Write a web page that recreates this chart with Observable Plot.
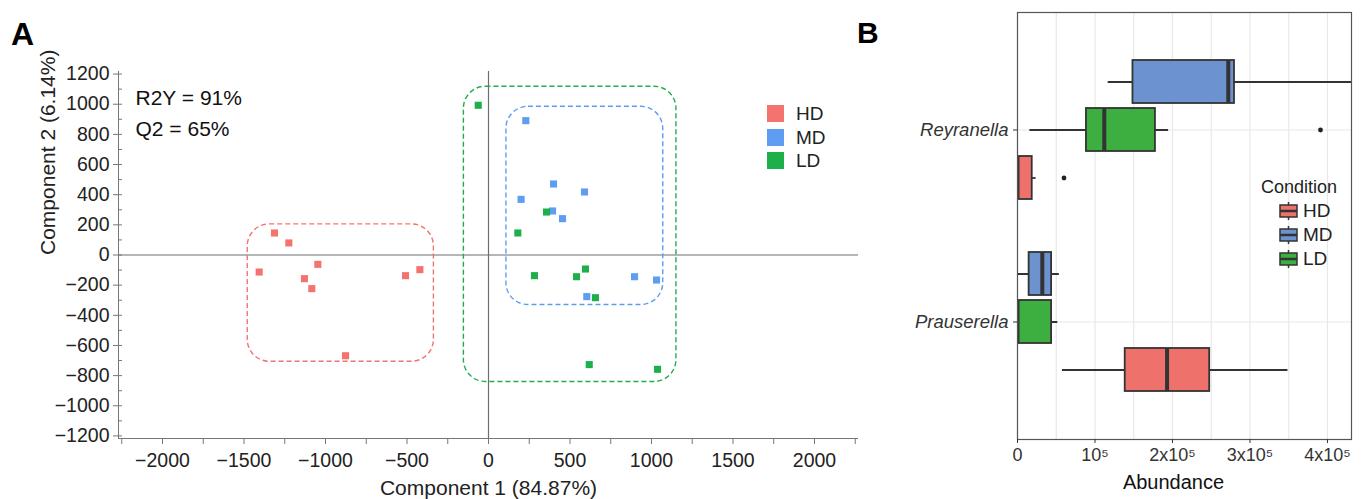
<!DOCTYPE html>
<html><head><meta charset="utf-8">
<script src="https://cdn.jsdelivr.net/npm/d3@7"></script>
<script src="https://cdn.jsdelivr.net/npm/@observablehq/plot@0.6"></script>
<style>
body{margin:0;background:#fff;font-family:"Liberation Sans",Arial,sans-serif;}
#wrap{position:relative;width:1365px;height:499px;overflow:hidden;background:#fff}
.abs{position:absolute}
#panelB g[aria-label="y-axis tick label"] text{font-style:italic}
</style></head><body><div id="wrap"></div>
<script>
// ---------- Panel A data (PLS-DA scores) ----------
const pcaGroups = ["HD", "MD", "LD"];
const pcaColors = ["#F4736E", "#5E9DF2", "#1DB04A"];
const hdX = [-1407, -1313, -1225, -1047, -1129, -1084, -877, -509, -421];
const hdY = [-113, 146, 80, -62, -157, -223, -668, -137, -97];
const mdX = [229, 399, 589, 200, 393, 454, 896, 1031, 603];
const mdY = [891, 471, 418, 369, 292, 241, -144, -166, -276];
const ldX = [-63, 180, 356, 282, 540, 595, 656, 618, 1037];
const ldY = [993, 146, 285, -137, -144, -93, -283, -727, -758];
const hullGroup = ["HD", "LD", "MD"];
const hullX1 = [-1477, -151, 110];
const hullX2 = [-335, 1153, 1072];
const hullY1 = [-708, -842, -332];
const hullY2 = [203, 1116, 983];
const statsText = "R2Y = 91%\nQ2 = 65%";
const xTitleA = "Component 1 (84.87%)";
const yTitleA = "Component 2 (6.14%)";

// ---------- Panel B data (boxplots) ----------
const genera = ["Reyranella", "Prauserella"];
const conditionOrder = ["MD", "LD", "HD"];
const legendConditions = ["HD", "MD", "LD"];
const boxPalette = ["#EF716B", "#6C93CF", "#3DAE40"];
const boxGenus = ["Reyranella", "Reyranella", "Reyranella", "Prauserella", "Prauserella", "Prauserella"];
const boxCond = ["MD", "LD", "HD", "MD", "LD", "HD"];
const whiskerLo = [117000, 16000, 0, 0, 0, 58000];
const q1 = [149000, 89000, 0, 15000, 0, 139000];
const med = [272000, 112000, 0, 32000, 0, 193000];
const q3 = [280000, 178000, 19000, 44000, 44000, 248000];
const whiskerHi = [460000, 195000, 24000, 54000, 52000, 349000];
const outGenus = ["Reyranella", "Reyranella"];
const outCond = ["LD", "HD"];
const outVal = [391000, 60000];
const xTicksB = [0, 100000, 200000, 300000, 400000];

// ---------- build tables ----------
const points = [
  ...hdX.map((x, i) => ({group: "HD", x, y: hdY[i]})),
  ...mdX.map((x, i) => ({group: "MD", x, y: mdY[i]})),
  ...ldX.map((x, i) => ({group: "LD", x, y: ldY[i]}))
];
const hulls = hullGroup.map((g, i) => ({group: g, x1: hullX1[i], x2: hullX2[i], y1: hullY1[i], y2: hullY2[i]}));
const boxes = boxGenus.map((g, i) => ({key: g + "|" + boxCond[i], cond: boxCond[i], lo: whiskerLo[i], q1: q1[i], med: med[i], q3: q3[i], hi: whiskerHi[i]}));
const outliers = outGenus.map((g, i) => ({key: g + "|" + outCond[i], x: outVal[i]}));
const yKeys = genera.flatMap((g, i) => (i ? [" "] : []).concat(conditionOrder.map(c => g + "|" + c)));

const wrap = document.getElementById("wrap");
const FONT = "'Liberation Sans', Arial, sans-serif";
const plain = d => d < 0 ? "\u2212" + Math.abs(d) : String(d);

// ---------- Panel A ----------
const xDomA = [-2270, 2270], yDomA = [-1217, 1217];
const plotA = Plot.plot({
  width: 870, height: 499,
  marginLeft: 118, marginRight: 12, marginTop: 71, marginBottom: 61,
  style: {fontFamily: FONT, fontSize: "19px", color: "#222", background: "transparent", overflow: "visible"},
  x: {domain: xDomA, label: null},
  y: {domain: yDomA, label: null},
  color: {domain: pcaGroups, range: pcaColors},
  marks: [
    Plot.ruleX([0], {stroke: "#6e6e6e", strokeWidth: 1.2}),
    Plot.ruleY([0], {stroke: "#6e6e6e", strokeWidth: 1.2}),
    Plot.rect(hulls, {x1: "x1", x2: "x2", y1: "y1", y2: "y2", rx: 22, fill: "none", stroke: "group", strokeWidth: 1.4, strokeDasharray: "5,3"}),
    Plot.dot(points, {x: "x", y: "y", fill: "group", symbol: "square", r: 4}),
    Plot.ruleX([xDomA[0]], {stroke: "#777"}),
    Plot.ruleY([yDomA[0]], {stroke: "#777"}),
    Plot.axisX({ticks: d3.range(-2000, 2001, 500), tickFormat: plain, tickSize: 6, tickPadding: 9, fontSize: 19.5, stroke: "#777"}),
    Plot.axisX({ticks: d3.range(-2250, 2251, 500), tickSize: 6, text: null, stroke: "#777"}),
    Plot.axisY({ticks: d3.range(-1200, 1201, 200), tickFormat: plain, tickSize: 5, tickPadding: 4, fontSize: 19.5, stroke: "#777"}),
    Plot.axisY({ticks: d3.range(-1200, 1201, 100), tickSize: -4, text: null, stroke: "#777"}),
    Plot.text([statsText], {frameAnchor: "top-left", textAnchor: "start", lineAnchor: "top", dx: 17, dy: 12, fontSize: 21, lineHeight: 1.45, fill: "#111"}),
    Plot.text([xTitleA], {frameAnchor: "bottom", lineAnchor: "middle", dy: 50, fontSize: 21, fill: "#222"}),
    Plot.text([yTitleA], {frameAnchor: "left", lineAnchor: "middle", rotate: -90, dx: -70, fontSize: 21, fill: "#222"})
  ]
});
plotA.classList.add("abs");
plotA.style.left = "0px"; plotA.style.top = "0px";
wrap.appendChild(plotA);

// Panel A legend
const legA = document.createElement("div");
legA.className = "abs";
legA.style.cssText = "left:767px;top:102px;font-size:19px;color:#222;line-height:23.5px";
legA.innerHTML = pcaGroups.map((g, i) =>
  `<div style="display:flex;align-items:center;height:23.5px"><span style="display:inline-block;width:17px;height:17px;background:${pcaColors[i]};margin-right:12px"></span>${g}</div>`).join("");
wrap.appendChild(legA);

// ---------- Panel B ----------
const fmtB = d => d === 0 ? "0" : d === 100000 ? "10\u2075" : (d / 100000) + "x10\u2075";
const plotB = Plot.plot({
  width: 515, height: 499,
  marginLeft: 168, marginRight: 13, marginTop: 12, marginBottom: 60,
  style: {fontFamily: FONT, fontSize: "18px", color: "#333", background: "transparent", overflow: "visible"},
  x: {domain: [0, 431000], label: null},
  y: {domain: yKeys, label: null, paddingInner: 0.1, paddingOuter: 0.95},
  color: {domain: legendConditions, range: boxPalette},
  marks: [
    Plot.gridX({ticks: d3.range(0, 450001, 50000), stroke: "#e8e8e8", strokeOpacity: 1, strokeWidth: 1.2}),
    Plot.gridY({ticks: genera.map(g => g + "|LD"), stroke: "#e8e8e8", strokeOpacity: 1, strokeWidth: 1.2}),
    Plot.ruleY(boxes, {y: "key", x1: "lo", x2: "hi", stroke: "#333", strokeWidth: 1.8, clip: true}),
    Plot.barX(boxes, {y: "key", x1: "q1", x2: "q3", fill: "cond", stroke: "#333", strokeWidth: 1.8, clip: true}),
    Plot.tickX(boxes, {y: "key", x: "med", stroke: "#333", strokeWidth: 4, clip: true}),
    Plot.dot(outliers, {y: "key", x: "x", r: 2.4, fill: "#222"}),
    Plot.frame({stroke: "#555", strokeWidth: 1.2}),
    Plot.axisX({ticks: xTicksB, tickFormat: fmtB, tickSize: 4, tickPadding: 5, fontSize: 18, stroke: "#333"}),
    Plot.axisY({ticks: genera.map(g => g + "|LD"), tickFormat: d => d.split("|")[0], tickSize: 4, tickPadding: 5, fontSize: 18.5, fontStyle: "italic", stroke: "#333"}),
    Plot.text(["Abundance"], {frameAnchor: "bottom", lineAnchor: "middle", dy: 43, dx: -11, fontSize: 20, fill: "#111"})
  ]
});
plotB.id = "panelB";
plotB.classList.add("abs");
plotB.style.left = "849px"; plotB.style.top = "0px";
wrap.appendChild(plotB);

// Panel B legend
const legB = document.createElement("div");
legB.className = "abs";
legB.style.cssText = "left:1261px;top:175px;font-size:18px;color:#222";
const keySvg = c => `<svg width="19" height="20" style="margin-right:5px"><line x1="9.5" y1="1" x2="9.5" y2="19" stroke="#333" stroke-width="1.5"/><rect x="1" y="4" width="17" height="12" fill="${c}" stroke="#333" stroke-width="1.5"/><line x1="1" y1="10" x2="18" y2="10" stroke="#333" stroke-width="2.5"/></svg>`;
legB.innerHTML = `<div style="height:24px;line-height:24px">Condition</div>` +
  legendConditions.map((g, i) => `<div style="display:flex;align-items:center;height:24px;margin-left:18px;font-size:19px">${keySvg(boxPalette[i])}${g}</div>`).join("");
wrap.appendChild(legB);

// panel letters
const la = document.createElement("div");
la.className = "abs";
la.style.cssText = "left:11px;top:16px;font-size:32px;font-weight:bold;color:#000";
la.textContent = "A";
wrap.appendChild(la);
const lb = document.createElement("div");
lb.className = "abs";
lb.style.cssText = "left:857px;top:16px;font-size:30px;font-weight:bold;color:#000";
lb.textContent = "B";
wrap.appendChild(lb);
</script></body></html>
